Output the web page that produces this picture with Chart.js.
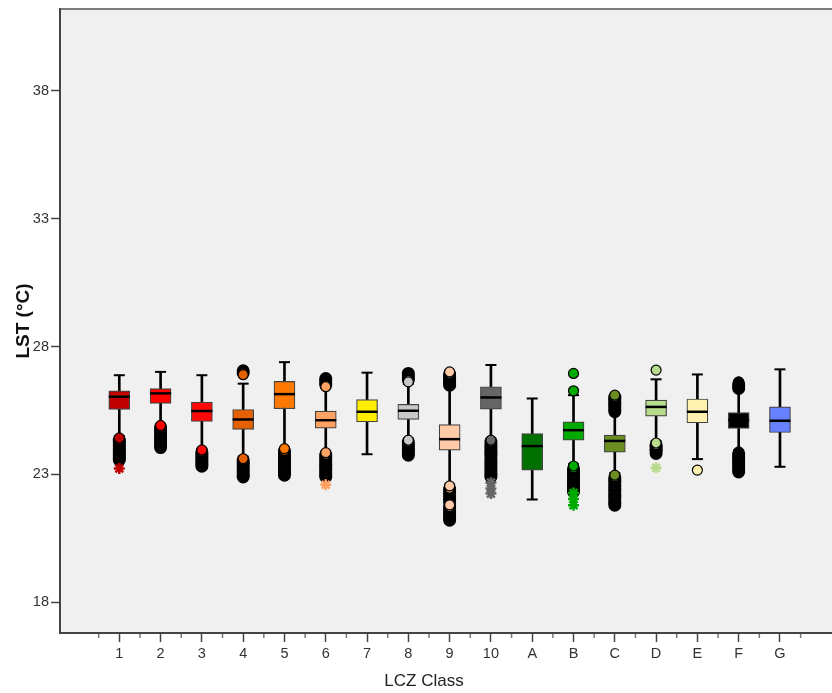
<!DOCTYPE html>
<html>
  <head>
    <title>LST por clase LCZ</title>
    <style>
      html, body { margin: 0; padding: 0; overflow: hidden; background: #ffffff; }
      #lstChart { display: block; }
    </style>
  </head>
  <body>

    <!-- Chart.js -->
    <script src="https://cdn.jsdelivr.net/npm/chart.js@4.4.0/dist/chart.umd.min.js"></script>

    <canvas id="lstChart" width="832" height="693"></canvas>

    <script>

      // Clases LCZ (eje X)
      const categories = ["1", "2", "3", "4", "5", "6", "7", "8", "9", "10", "A", "B", "C", "D", "E", "F", "G"];
      const colors = ["#c00000", "#ff0000", "#ff0808", "#e46000", "#ff7800", "#ffa263", "#ffee00", "#c8c8c8", "#ffcaa8",
                      "#666666", "#007000", "#00aa00", "#6b8e23", "#b7dc8c", "#fff2b0", "#000000", "#6680ff"];

      // Valores de las cajas (LST en °C)
      const whiskerHigh = [26.88, 27.01, 26.88, 26.55, 27.39, 26.38, 26.98, 26.55, 26.42, 27.28, 25.97, 26.10, 25.40, 26.72, 26.91, 26.30, 27.11];
      const q3          = [26.27, 26.36, 25.83, 25.54, 26.64, 25.48, 25.93, 25.74, 24.95, 26.43, 24.60, 25.06, 24.54, 25.91, 25.95, 25.42, 25.64];
      const median      = [26.04, 26.17, 25.48, 25.15, 26.14, 25.12, 25.45, 25.49, 24.38, 26.01, 24.11, 24.73, 24.31, 25.64, 25.45, 25.12, 25.10];
      const q1          = [25.54, 25.78, 25.07, 24.76, 25.57, 24.81, 25.06, 25.15, 23.95, 25.55, 23.17, 24.34, 23.87, 25.28, 25.02, 24.80, 24.64];
      const whiskerLow  = [24.50, 24.95, 24.00, 23.70, 24.05, 23.90, 23.79, 24.40, 22.60, 24.40, 22.02, 23.40, 23.05, 24.30, 23.60, 23.95, 23.30];

      // Valores atípicos (círculos) y extremos (estrellas)
      const outliers = [
        [23.56, 23.63, 23.71, 23.79, 23.86, 23.94, 24.01, 24.10, 24.17, 24.26, 24.34, 24.43],
        [24.05, 24.13, 24.22, 24.30, 24.38, 24.47, 24.56, 24.66, 24.75, 24.84, 24.92],
        [23.32, 23.40, 23.49, 23.56, 23.65, 23.72, 23.81, 23.88, 23.96],
        [27.05, 26.97, 26.90, 22.90, 22.98, 23.07, 23.14, 23.23, 23.30, 23.39, 23.46, 23.55, 23.62],
        [22.97, 23.06, 23.14, 23.23, 23.31, 23.40, 23.48, 23.57, 23.65, 23.74, 23.82, 23.91, 24.01],
        [26.75, 26.67, 26.58, 26.51, 26.43, 22.90, 22.99, 23.07, 23.16, 23.24, 23.33, 23.41, 23.50, 23.59, 23.67, 23.76, 23.85],
        [],
        [26.95, 26.86, 26.78, 26.70, 26.62, 23.75, 23.84, 23.91, 24.00, 24.09, 24.17, 24.26, 24.34],
        [26.49, 26.55, 26.61, 26.70, 26.77, 26.86, 26.93, 27.01,
         21.21, 21.30, 21.37, 21.46, 21.55, 21.63, 21.72, 21.90, 21.98, 22.08, 22.16, 22.25, 22.34, 22.43, 21.81, 22.55],
        [22.90, 22.99, 23.07, 23.16, 23.26, 23.34, 23.43, 23.53, 23.61, 23.71, 23.80, 23.89, 23.98, 24.08, 24.16, 24.26, 24.34],
        [],
        [26.95, 26.27, 22.32, 22.41, 22.49, 22.58, 22.68, 22.76, 22.85, 22.95, 23.03, 23.13, 23.22, 23.33],
        [25.46, 25.54, 25.62, 25.71, 25.78, 25.86, 25.95, 26.02, 26.10,
         21.80, 21.89, 21.97, 22.07, 22.15, 22.24, 22.34, 22.42, 22.52, 22.60, 22.70, 22.78, 22.88, 22.97],
        [27.08, 23.82, 23.91, 23.98, 24.07, 24.14, 24.23],
        [23.17],
        [26.36, 26.45, 26.54, 26.62, 23.10, 23.19, 23.27, 23.37, 23.45, 23.54, 23.63, 23.71, 23.80, 23.88],
        []
      ];
      const extremes = [
        [23.23], [], [], [], [], [22.60], [], [], [], [22.68, 22.45, 22.25],
        [], [22.27, 22.04, 21.80], [], [23.26], [], [], []
      ];

      // Eje Y
      const yTicks = [18, 23, 28, 33, 38];

      // Se arman los datos para el Chart
      const boxData = categories.map((c, i) => ({ x: i + 1, y: [q1[i], q3[i]] }));
      const whiskerData = categories.map((c, i) => ({ x: i + 1, y: [whiskerLow[i], whiskerHigh[i]] }));
      const capData = [];
      categories.forEach((c, i) => {
        capData.push({ x: i + 1, y: whiskerLow[i] });
        capData.push({ x: i + 1, y: whiskerHigh[i] });
      });
      const medianData = categories.map((c, i) => ({ x: i + 1, y: median[i] }));

      const outlierData = [];
      const outlierColors = [];
      outliers.forEach((list, i) => {
        for (const v of list) {
          outlierData.push({ x: i + 1, y: v });
          outlierColors.push(colors[i]);
        }
      });

      const extremeData = [];
      const extremeColors = [];
      extremes.forEach((list, i) => {
        for (const v of list) {
          extremeData.push({ x: i + 1, y: v });
          extremeColors.push(colors[i]);
        }
      });

      // Un círculo tapado por otro dibujado después lleva borde grueso (masa negra)
      function outlierBorder(c) {
        const p = outlierData[c.dataIndex];
        if (!p) return 1.2;
        const covered = outlierData.some((q, j) => j > c.dataIndex && q.x === p.x && Math.abs(q.y - p.y) < 0.2);
        return covered ? 3 : 1.2;
      }

      // Fondo gris, borde superior y marcas menores del eje X
      const plotFrame = {
        id: "plotFrame",
        beforeDraw(chart) {
          const { ctx, chartArea } = chart;
          ctx.save();
          ctx.fillStyle = "#f0f0f0";
          ctx.fillRect(chartArea.left, chartArea.top, chartArea.right - chartArea.left, chartArea.bottom - chartArea.top);
          ctx.restore();
        },
        afterDraw(chart) {
          const { ctx, chartArea, scales } = chart;
          ctx.save();
          ctx.strokeStyle = "#555555";
          ctx.lineWidth = 1.5;
          ctx.beginPath();
          ctx.moveTo(chartArea.left, chartArea.top);
          ctx.lineTo(chartArea.right, chartArea.top);
          ctx.stroke();

          ctx.strokeStyle = "#777777";
          ctx.lineWidth = 1.5;
          for (let i = 0; i <= categories.length; i++) {
            const x = scales.x.getPixelForValue(i + 0.5);
            ctx.beginPath();
            ctx.moveTo(x, chartArea.bottom + 1);
            ctx.lineTo(x, chartArea.bottom + 5);
            ctx.stroke();
          }

          // Título del eje X
          ctx.fillStyle = "#222222";
          ctx.font = "17px 'Liberation Sans', Arial, sans-serif";
          ctx.textAlign = "center";
          ctx.textBaseline = "middle";
          ctx.fillText("LCZ Class", 424, 681);
          ctx.restore();
        }
      };

      // Se inicializa el Chart
      const ctx = document.getElementById("lstChart").getContext("2d");

      const chart = new Chart(ctx, {
        type: "bar",
        data: {
          datasets: [
            {
              type: "bar",
              data: whiskerData,
              backgroundColor: "#000000",
              borderWidth: 0,
              barThickness: 2,
              grouped: false,
              order: 5
            },
            {
              type: "scatter",
              data: capData,
              pointStyle: "line",
              pointRadius: 5.5,
              pointHoverRadius: 5.5,
              pointBorderColor: "#000000",
              pointBorderWidth: 2,
              order: 4
            },
            {
              type: "bar",
              data: boxData,
              backgroundColor: colors,
              borderColor: "#444444",
              borderWidth: 1.2,
              borderSkipped: false,
              barThickness: 21,
              grouped: false,
              order: 3
            },
            {
              type: "scatter",
              data: medianData,
              pointStyle: "line",
              pointRadius: 10.5,
              pointHoverRadius: 10.5,
              pointBorderColor: "#000000",
              pointBorderWidth: 2.5,
              order: 2
            },
            {
              type: "scatter",
              data: outlierData,
              pointStyle: "circle",
              pointRadius: 5,
              pointHoverRadius: 5,
              pointBackgroundColor: outlierColors,
              pointBorderColor: "#000000",
              pointBorderWidth: outlierBorder,
              order: 1
            },
            {
              type: "scatter",
              data: extremeData,
              pointStyle: "star",
              pointRadius: 5.5,
              pointHoverRadius: 5.5,
              pointBorderColor: extremeColors,
              pointBorderWidth: 2.5,
              order: 0
            }
          ]
        },
        options: {
          responsive: false,
          animation: false,
          layout: { autoPadding: false, padding: { top: 9, right: 0, bottom: 0, left: 0 } },
          plugins: {
            legend: { display: false },
            tooltip: { enabled: false }
          },
          scales: {
            x: {
              type: "linear",
              min: -0.436,
              max: 18.26,
              offset: false,
              afterBuildTicks: (scale) => {
                scale.ticks = categories.map((c, i) => ({ value: i + 1 }));
              },
              afterFit: (scale) => {
                scale.height = 60;
                scale.paddingLeft = 0;
                scale.paddingRight = 0;
              },
              ticks: {
                autoSkip: false,
                maxRotation: 0,
                padding: 3,
                color: "#333333",
                font: { family: "'Liberation Sans', Arial, sans-serif", size: 14.5 },
                callback: (value) => categories[value - 1]
              },
              grid: {
                offset: false,
                drawOnChartArea: false,
                drawTicks: true,
                tickLength: 9,
                tickColor: "#444444",
                tickWidth: 1.5
              },
              border: { display: true, color: "#444444", width: 2 }
            },
            y: {
              type: "linear",
              min: 16.8,
              max: 41.2,
              afterBuildTicks: (scale) => {
                scale.ticks = yTicks.map((v) => ({ value: v }));
              },
              afterFit: (scale) => {
                scale.width = 60;
                scale.paddingTop = 0;
                scale.paddingBottom = 0;
              },
              ticks: {
                padding: 2,
                color: "#333333",
                font: { family: "'Liberation Sans', Arial, sans-serif", size: 14.5 }
              },
              grid: {
                drawOnChartArea: false,
                drawTicks: true,
                tickLength: 9,
                tickColor: "#444444",
                tickWidth: 1.5
              },
              border: { display: true, color: "#444444", width: 2 },
              title: {
                display: true,
                text: "LST (°C)",
                color: "#111111",
                font: { family: "'Liberation Sans', Arial, sans-serif", size: 19, weight: "bold" },
                padding: { top: 12, bottom: 0 }
              }
            }
          }
        },
        plugins: [plotFrame]
      });

    </script>
  </body>
</html>
